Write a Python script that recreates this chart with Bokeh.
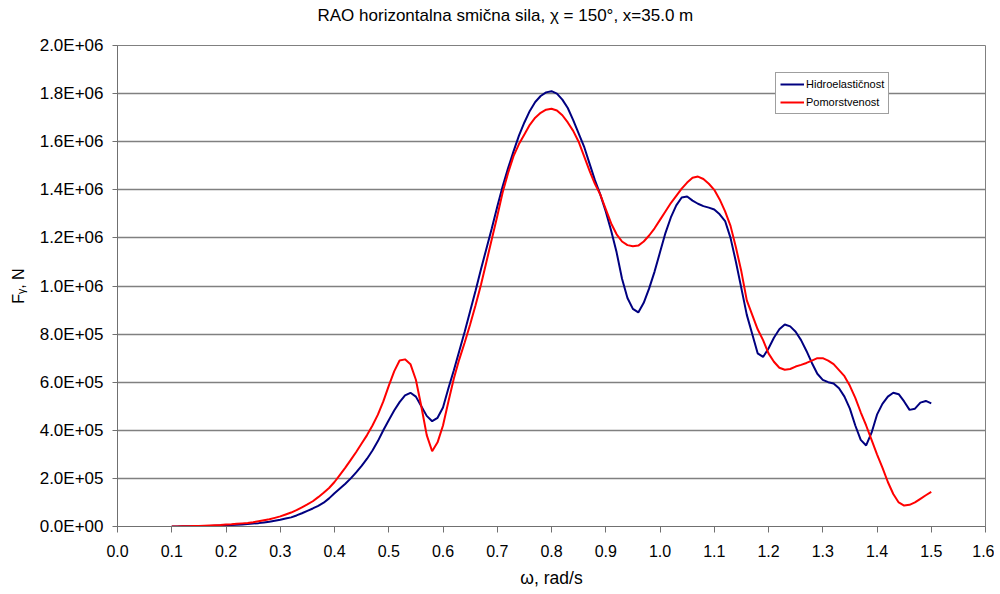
from bokeh.plotting import figure
from bokeh.models import FixedTicker, Legend, LegendItem, Title
from bokeh.embed import file_html
from bokeh.resources import INLINE

# frequency, rad/s
omega = [round(0.10 + 0.01 * i, 2) for i in range(141)]

# Hidroelasticnost, units of 1e5 N
hidro = [
    0.00, 0.00, 0.01, 0.01, 0.01, 0.01, 0.02, 0.02, 0.03, 0.04,   # 0.10-0.19
    0.05, 0.06, 0.07, 0.08, 0.10, 0.12, 0.14, 0.17, 0.20, 0.24,   # 0.20-0.29
    0.28, 0.33, 0.38, 0.46, 0.55, 0.65, 0.75, 0.86, 0.99, 1.17,   # 0.30-0.39
    1.38, 1.58, 1.78, 2.00, 2.25, 2.52, 2.82, 3.16, 3.55, 4.00,   # 0.40-0.49
    4.42, 4.82, 5.17, 5.45, 5.56, 5.40, 5.00, 4.60, 4.38, 4.52,   # 0.50-0.59
    4.95, 5.75, 6.50, 7.30, 8.10, 8.95, 9.80, 10.70, 11.55, 12.40, # 0.60-0.69
    13.30, 14.15, 14.90, 15.60, 16.25, 16.80, 17.28, 17.65, 17.90, 18.05, # 0.70-0.79
    18.10, 18.00, 17.75, 17.40, 16.90, 16.35, 15.80, 15.10, 14.40, 13.80, # 0.80-0.89
    13.10, 12.30, 11.40, 10.30, 9.50, 9.05, 8.90, 9.30, 9.90, 10.60, # 0.90-0.99
    11.40, 12.20, 12.85, 13.35, 13.68, 13.72, 13.55, 13.42, 13.32, 13.26, # 1.00-1.09
    13.18, 12.98, 12.70, 12.00, 11.00, 9.90, 8.80, 8.00, 7.20, 7.05, # 1.10-1.19
    7.40, 7.85, 8.20, 8.40, 8.32, 8.10, 7.75, 7.30, 6.80, 6.35,   # 1.20-1.29
    6.10, 6.00, 5.95, 5.75, 5.40, 4.90, 4.20, 3.60, 3.37, 3.90,   # 1.30-1.39
    4.65, 5.10, 5.40, 5.56, 5.50, 5.20, 4.85, 4.90, 5.15, 5.22,   # 1.40-1.49
    5.12,                                                          # 1.50
]

# Pomorstvenost, units of 1e5 N
pomor = [
    0.00, 0.00, 0.01, 0.01, 0.02, 0.02, 0.03, 0.04, 0.05, 0.06,   # 0.10-0.19
    0.08, 0.09, 0.11, 0.13, 0.15, 0.18, 0.22, 0.26, 0.30, 0.36,   # 0.20-0.29
    0.42, 0.50, 0.58, 0.68, 0.80, 0.92, 1.05, 1.22, 1.40, 1.60,   # 0.30-0.39
    1.85, 2.15, 2.45, 2.77, 3.10, 3.45, 3.80, 4.20, 4.65, 5.20,   # 0.40-0.49
    5.85, 6.45, 6.90, 6.95, 6.75, 6.10, 5.00, 3.80, 3.13, 3.50,   # 0.50-0.59
    4.20, 5.20, 6.15, 6.95, 7.65, 8.40, 9.20, 10.05, 11.00, 11.95, # 0.60-0.69
    12.90, 13.90, 14.70, 15.40, 15.90, 16.30, 16.70, 17.00, 17.20, 17.33, # 0.70-0.79
    17.37, 17.30, 17.10, 16.80, 16.45, 16.00, 15.40, 14.80, 14.25, 13.80, # 0.80-0.89
    13.20, 12.60, 12.15, 11.85, 11.70, 11.65, 11.68, 11.85, 12.10, 12.40, # 0.90-0.99
    12.75, 13.10, 13.45, 13.75, 14.05, 14.30, 14.50, 14.55, 14.45, 14.25, # 1.00-1.09
    14.00, 13.60, 13.10, 12.50, 11.60, 10.60, 9.40, 8.80, 8.20, 7.75, # 1.10-1.19
    7.20, 6.85, 6.60, 6.52, 6.55, 6.65, 6.72, 6.80, 6.90, 7.00,   # 1.20-1.29
    7.00, 6.90, 6.75, 6.50, 6.25, 5.85, 5.35, 4.75, 4.20, 3.60,   # 1.30-1.39
    3.00, 2.45, 1.85, 1.35, 1.00, 0.87, 0.90, 1.00, 1.15, 1.30,   # 1.40-1.49
    1.44,                                                          # 1.50
]

series_names = ["Hidroelastičnost", "Pomorstvenost"]
series_colors = ["#000080", "#ff0000"]

x_ticks = [round(0.1 * i, 1) for i in range(17)]
x_tick_labels = ["%.1f" % v for v in x_ticks]
y_ticks = [i * 2.0e5 for i in range(11)]
y_tick_labels = ["0.0E+00", "2.0E+05", "4.0E+05", "6.0E+05", "8.0E+05",
                 "1.0E+06", "1.2E+06", "1.4E+06", "1.6E+06", "1.8E+06", "2.0E+06"]

title_text = "RAO horizontalna smična sila, χ = 150°, x=35.0 m"
x_label = "ω, rad/s"
y_label = "Fᵧ, N"

FONT = "Liberation Sans"

p = figure(width=994, height=590, output_backend="svg", toolbar_location=None,
           x_range=(0.0, 1.6), y_range=(0.0, 2.0e6),
           min_border_left=117, min_border_right=9, min_border_top=45,
           min_border_bottom=63)

# spacer between frame and title, then the chart title above it
p.add_layout(Title(text=" ", text_font_size="1px", standoff=18), "above")
p.add_layout(Title(text=title_text, align="left", offset=200,
                   text_font=FONT, text_font_size="17px",
                   text_font_style="normal", text_color="black", standoff=0),
             "above")

p.background_fill_color = "white"
p.border_fill_color = "white"
p.outline_line_color = "#808080"
p.outline_line_width = 1

p.xgrid.grid_line_color = None
p.ygrid.grid_line_color = "#808080"
p.ygrid.grid_line_width = 1.6
p.ygrid.ticker = FixedTicker(ticks=y_ticks)

p.xaxis.ticker = FixedTicker(ticks=x_ticks)
p.xaxis.major_label_overrides = {v: s for v, s in zip(x_ticks, x_tick_labels)}
p.yaxis.ticker = FixedTicker(ticks=y_ticks)
p.yaxis.major_label_overrides = {v: s for v, s in zip(y_ticks, y_tick_labels)}

for ax in (p.xaxis, p.yaxis):
    ax.axis_line_color = "#707070"
    ax.axis_line_width = 1
    ax.major_tick_line_color = "#707070"
    ax.minor_tick_line_color = None
    ax.major_tick_in = 0
    ax.major_label_text_font = FONT
    ax.major_label_text_color = "black"
    ax.axis_label_text_font = FONT
    ax.axis_label_text_font_style = "normal"
    ax.axis_label_text_color = "black"

p.xaxis.major_tick_out = 6
p.yaxis.major_tick_out = 5
p.xaxis.major_label_text_font_size = "16px"
p.yaxis.major_label_text_font_size = "17px"
p.xaxis.axis_label_text_font_size = "17.5px"
p.yaxis.axis_label_text_font_size = "16px"
p.xaxis.axis_label = x_label
p.yaxis.axis_label = y_label
p.xaxis.major_label_standoff = 12
p.yaxis.major_label_standoff = 9
p.xaxis.axis_label_standoff = 8
p.yaxis.axis_label_standoff = 10

y_h = [v * 1e5 for v in hidro]
y_p = [v * 1e5 for v in pomor]

r1 = p.line(omega, y_h, line_color=series_colors[0], line_width=2)
r2 = p.line(omega, y_p, line_color=series_colors[1], line_width=2)

legend = Legend(items=[LegendItem(label=series_names[0], renderers=[r1]),
                       LegendItem(label=series_names[1], renderers=[r2])],
                location=(658, 412))
legend.label_text_font = FONT
legend.label_text_font_size = "11px"
legend.label_text_color = "black"
legend.glyph_width = 24
legend.glyph_height = 14
legend.label_height = 14
legend.label_standoff = 2
legend.spacing = 4
legend.padding = 4
legend.margin = 0
legend.border_line_color = "#404040"
legend.border_line_width = 1
legend.background_fill_color = "white"
legend.background_fill_alpha = 1.0
p.add_layout(legend)

open("out.html", "w").write(file_html(p, INLINE))
